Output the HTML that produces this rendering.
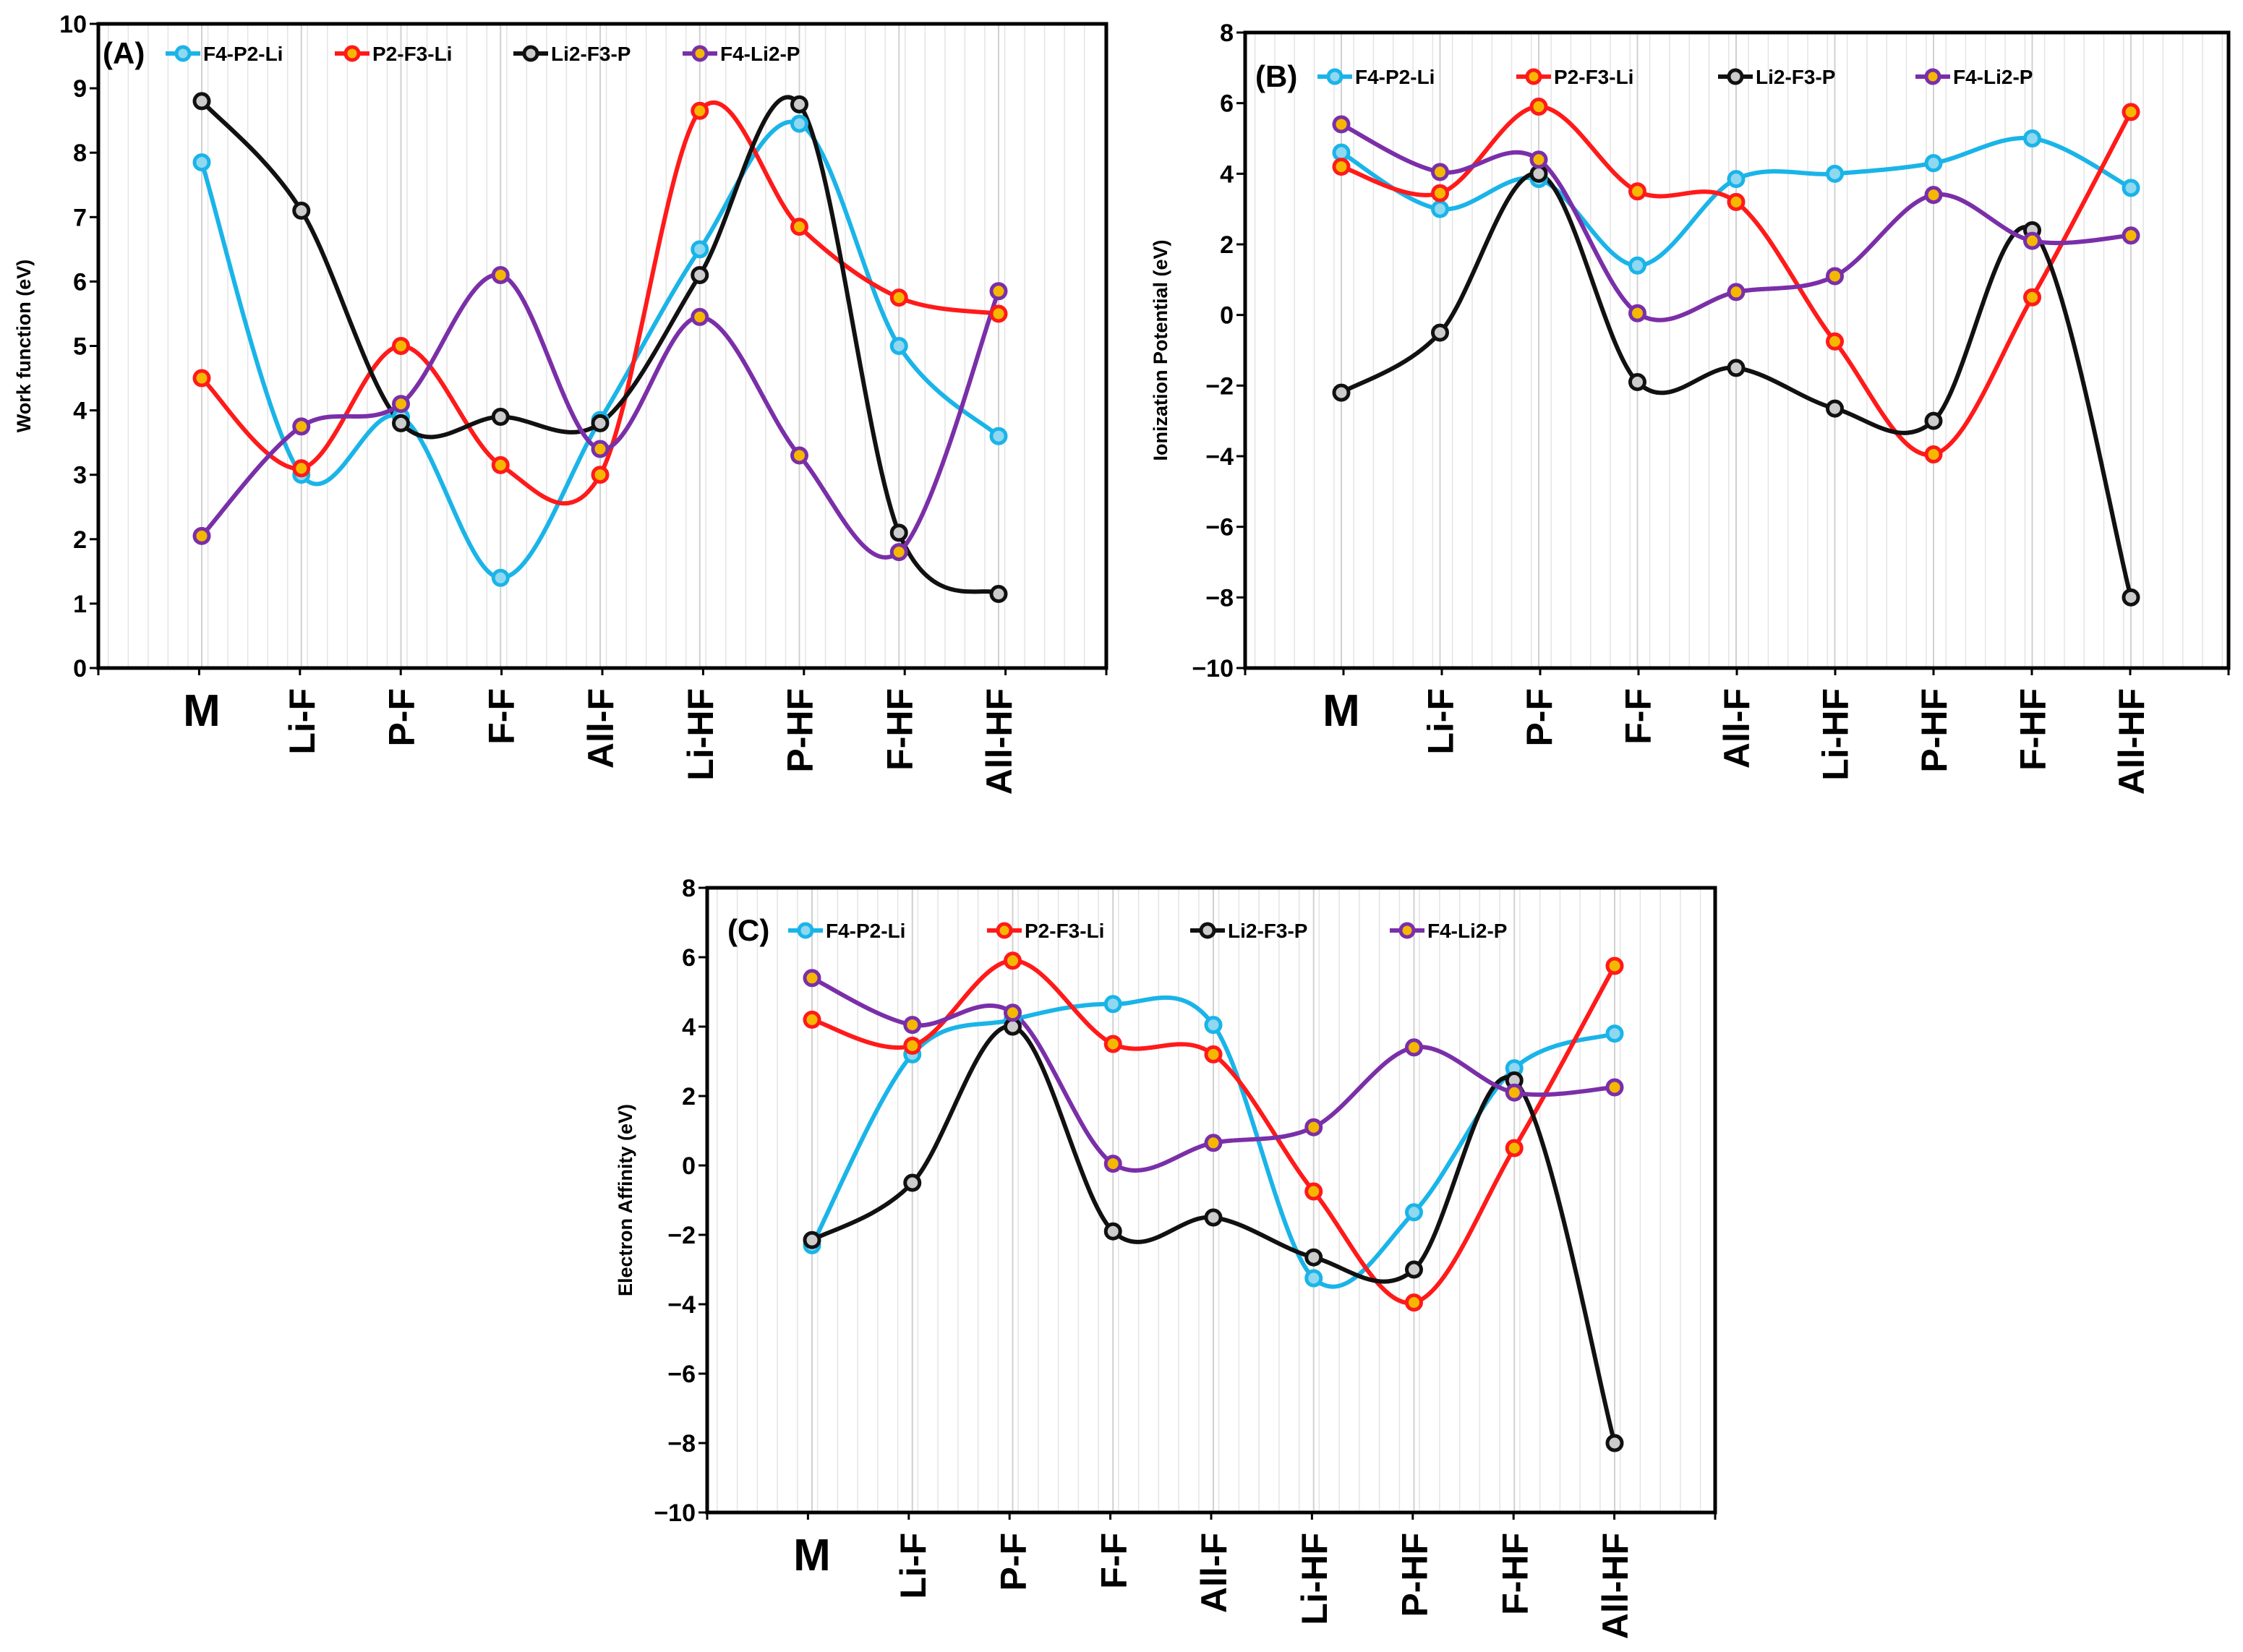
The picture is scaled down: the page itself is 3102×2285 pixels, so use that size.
<!DOCTYPE html>
<html><head><meta charset="utf-8"><style>
html,body{margin:0;padding:0;background:#fff;}
svg{display:block;font-family:"Liberation Sans",Arial,sans-serif;}
</style></head><body>
<svg id="fig" width="3102" height="2285" viewBox="0 0 3102 2285" xmlns="http://www.w3.org/2000/svg"></svg>
<script>
const categories = ["M","Li-F","P-F","F-F","All-F","Li-HF","P-HF","F-HF","All-HF"];
const seriesNames = ["F4-P2-Li","P2-F3-Li","Li2-F3-P","F4-Li2-P"];
// Panel A: Work function
const wfF4P2Li = [7.85,3.0,3.9,1.4,3.85,6.5,8.45,5.0,3.6];
const wfP2F3Li = [4.5,3.1,5.0,3.15,3.0,8.65,6.85,5.75,5.5];
const wfLi2F3P = [8.8,7.1,3.8,3.9,3.8,6.1,8.75,2.1,1.15];
const wfF4Li2P = [2.05,3.75,4.1,6.1,3.4,5.45,3.3,1.8,5.85];
// Panel B: Ionization potential
const ipF4P2Li = [4.6,3.0,3.85,1.4,3.85,4.0,4.3,5.0,3.6];
const ipP2F3Li = [4.2,3.45,5.9,3.5,3.2,-0.75,-3.95,0.5,5.75];
const ipLi2F3P = [-2.2,-0.5,4.0,-1.9,-1.5,-2.65,-3.0,2.4,-8.0];
const ipF4Li2P = [5.4,4.05,4.4,0.05,0.65,1.1,3.4,2.1,2.25];
// Panel C: Electron affinity
const eaF4P2Li = [-2.3,3.2,4.2,4.65,4.05,-3.25,-1.35,2.8,3.8];
const eaP2F3Li = [4.2,3.45,5.9,3.5,3.2,-0.75,-3.95,0.5,5.75];
const eaLi2F3P = [-2.15,-0.5,4.0,-1.9,-1.5,-2.65,-3.0,2.45,-8.0];
const eaF4Li2P = [5.4,4.05,4.4,0.05,0.65,1.1,3.4,2.1,2.25];
const ticksA = [0,1,2,3,4,5,6,7,8,9,10];
const ticksBC = [-10,-8,-6,-4,-2,0,2,4,6,8];
const tickLabelsA = ["0","1","2","3","4","5","6","7","8","9","10"];
const tickLabelsBC = ["\u221210","\u22128","\u22126","\u22124","\u22122","0","2","4","6","8"];

const colors = ["#1ab4e8","#ff1a1a","#111111","#7a2fa8"];
const centers = ["#8fd8f0","#f5b800","#cccccc","#f5b800"];
const NS="http://www.w3.org/2000/svg";
const svg=document.getElementById('fig');
function mk(tag,attrs,parent){const e=document.createElementNS(NS,tag);for(const k in attrs)e.setAttribute(k,attrs[k]);(parent||svg).appendChild(e);return e;}

function smoothPath(pts){
  let d=`M${pts[0][0]},${pts[0][1]}`;
  for(let i=0;i<pts.length-1;i++){
    const p0=pts[i-1]||pts[i],p1=pts[i],p2=pts[i+1],p3=pts[i+2]||pts[i+1];
    const t=1/6;
    const c1=[p1[0]+(p2[0]-p0[0])*t,p1[1]+(p2[1]-p0[1])*t];
    const c2=[p2[0]-(p3[0]-p1[0])*t,p2[1]-(p3[1]-p1[1])*t];
    d+=` C${c1[0]},${c1[1]} ${c2[0]},${c2[1]} ${p2[0]},${p2[1]}`;
  }
  return d;
}

function panel(cfg){
  const g=mk('g',{});
  
  
  const {L,R,T,B,x0,x8,ymin,ymax}=cfg;
  const xs=i=>x0+(x8-x0)*i/8;
  const ys=v=>B-(v-ymin)/(ymax-ymin)*(B-T);
  // minor grid
  const step=(x8-x0)/8/5;
  for(let x=L+step*0.5;x<R;x+=step){
    const ln=mk('line',{x1:x,x2:x,y1:T,y2:B,stroke:'#e4e4e4','stroke-width':1.5},g);
    
    
  }
  for(let i=0;i<9;i++){
    const ln=mk('line',{x1:xs(i),x2:xs(i),y1:T,y2:B,stroke:'#d0d0d0','stroke-width':2},g);
    
    
  }
  // frame
  const fr=mk('rect',{x:L,y:T,width:R-L,height:B-T,fill:'none',stroke:'#000','stroke-width':5},g);
  
  
  // x ticks
  for(let i=0;i<=10;i++){
    const x=L+(R-L)*i/10;
    const t=mk('line',{x1:x,x2:x,y1:B,y2:B+10,stroke:'#000','stroke-width':3},g);
    
    
  }
  // y ticks
  cfg.ticks.forEach((v,i)=>{
    const t=mk('line',{x1:L-12,x2:L,y1:ys(v),y2:ys(v),stroke:'#000','stroke-width':3},g);
    
    
    const tx=mk('text',{x:L-16,y:ys(v)+12,'text-anchor':'end','font-size':34,'font-weight':'bold',fill:'#000'},g);
    tx.textContent=cfg.tickLabels[i];
    
    
  });
  // category labels
  categories.forEach((c,i)=>{
    let tx;
    if(c==='M'){
      tx=mk('text',{x:xs(i),y:B+80,'text-anchor':'middle','font-size':62,'font-weight':'bold',fill:'#000'},g);
    }else{
      tx=mk('text',{x:0,y:0,'text-anchor':'end','font-size':50,'font-weight':'bold',fill:'#000',transform:`translate(${xs(i)+18},${B+28}) rotate(-90)`},g);
    }
    tx.textContent=c;
    
    
  });
  // y title
  const yt=mk('text',{x:0,y:0,'text-anchor':'middle','font-size':27,'font-weight':'bold',fill:'#000',transform:`translate(${cfg.ytx},${(T+B)/2}) rotate(-90)`},g);
  yt.textContent=cfg.ytitle;
  
  
  // series
  cfg.series.forEach((vals,s)=>{
    const pts=vals.map((v,i)=>[xs(i),ys(v)]);
    const p=mk('path',{d:smoothPath(pts),fill:'none',stroke:colors[s],'stroke-width':6,'stroke-linejoin':'round'},g);
    
    
  });
  cfg.series.forEach((vals,s)=>{
    vals.forEach((v,i)=>{
      const c=mk('circle',{cx:xs(i),cy:ys(v),r:10,fill:centers[s],stroke:colors[s],'stroke-width':5},g);
      
      
    });
  });
  // panel label
  const pl=mk('text',{x:cfg.plx,y:cfg.ly+14,'font-size':42,'font-weight':'bold',fill:'#000'},g);
  pl.textContent=cfg.label;
  
  
  // legend
  cfg.legx.forEach((mx,s)=>{
    const lg=mk('g',{},g);
    
    
    mk('line',{x1:mx-24,x2:mx+24,y1:cfg.ly,y2:cfg.ly,stroke:colors[s],'stroke-width':6},lg);
    mk('circle',{cx:mx,cy:cfg.ly,r:9,fill:centers[s],stroke:colors[s],'stroke-width':5},lg);
    const t=mk('text',{x:mx+28,y:cfg.ly+10,'font-size':28,'font-weight':'bold',fill:'#000'},lg);
    t.textContent=seriesNames[s];
  });
}

panel({name:'panel-a-work-function',L:136,R:1530,T:33,B:924,x0:279,x8:1381,ymin:0,ymax:10,
  ticks:ticksA,tickLabels:tickLabelsA,ytitle:'Work function (eV)',ytx:42,label:'(A)',plx:142,ly:74,
  legx:[253,487,734,968],series:[wfF4P2Li,wfP2F3Li,wfLi2F3P,wfF4Li2P]});
panel({name:'panel-b-ionization-potential',L:1722,R:3082,T:45,B:924,x0:1855,x8:2947,ymin:-10,ymax:8,
  ticks:ticksBC,tickLabels:tickLabelsBC,ytitle:'Ionization Potential (eV)',ytx:1614,label:'(B)',plx:1736,ly:106,
  legx:[1846,2121,2400,2673],series:[ipF4P2Li,ipP2F3Li,ipLi2F3P,ipF4Li2P]});
panel({name:'panel-c-electron-affinity',L:978,R:2372,T:1228,B:2092,x0:1123,x8:2233,ymin:-10,ymax:8,
  ticks:ticksBC,tickLabels:tickLabelsBC,ytitle:'Electron Affinity (eV)',ytx:874,label:'(C)',plx:1006,ly:1287,
  legx:[1114,1389,1670,1946],series:[eaF4P2Li,eaP2F3Li,eaLi2F3P,eaF4Li2P]});
</script>
</body></html>
